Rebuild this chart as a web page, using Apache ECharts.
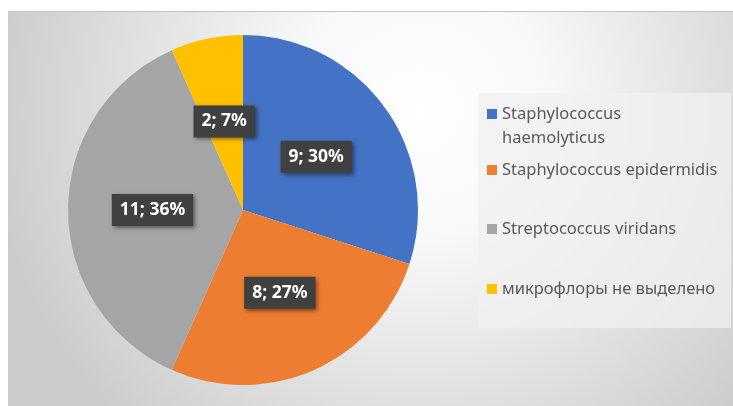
<!DOCTYPE html>
<html>
<head>
<meta charset="utf-8">
<script src="https://cdn.jsdelivr.net/npm/echarts@6/dist/echarts.min.js"></script>
<style>html,body{margin:0;padding:0;background:#fff}#c{width:733px;height:406px}</style>
</head>
<body>
<div id="c"></div>
<script>
const categories = ['Staphylococcus haemolyticus', 'Staphylococcus epidermidis', 'Streptococcus viridans', 'микрофлоры не выделено'];
const values = [9, 8, 11, 2];
const percentLabels = ['30%', '27%', '36%', '7%'];
const colors = ['#4472C4', '#ED7D31', '#A5A5A5', '#FFC000'];

const chart = echarts.init(document.getElementById('c'), null, {renderer: 'canvas'});
const font = '"Noto Sans", "Open Sans", sans-serif';
const legendTops = [78, 158, 217, 277];

const legends = categories.map((name, i) => ({
  data: [name],
  orient: 'vertical',
  left: 487,
  top: legendTops[i],
  padding: 0,
  icon: 'rect',
  itemWidth: 10,
  itemHeight: 10,
  itemGap: 0,
  selectedMode: false,
  formatter: n => (i === 0 ? '\n' + n.replace(' ', '\n') : n),
  textStyle: {
    fontFamily: font,
    fontSize: 16.5,
    color: '#595959',
    lineHeight: 24
  }
}));

chart.setOption({
  animation: false,
  color: colors,
  graphic: [
    {type: 'rect', z: -10, silent: true, shape: {x: 8, y: 11, width: 725, height: 395},
     style: {fill: {type: 'radial', x: 420, y: 110, r: 430, global: true,
       colorStops: [{offset: 0, color: '#ffffff'}, {offset: 0.3, color: '#f8f8f8'}, {offset: 1, color: '#cccccc'}]}}},
    {type: 'line', z: -9, silent: true, shape: {x1: 8, y1: 11.5, x2: 733, y2: 11.5},
     style: {stroke: '#c4c4c4', lineWidth: 1}},
    {type: 'rect', z: -8, silent: true, shape: {x: 478, y: 93, width: 253, height: 235},
     style: {fill: 'rgba(240,240,240,0.75)'}}
  ],
  legend: legends,
  series: [{
    type: 'pie',
    center: [243, 210],
    radius: 175,
    startAngle: 90,
    clockwise: true,
    silent: true,
    data: categories.map((n, i) => ({name: n, value: values[i]})),
    label: {
      show: true,
      position: 'inside',
      formatter: p => values[p.dataIndex] + '; ' + percentLabels[p.dataIndex],
      fontFamily: font,
      fontSize: 17.5,
      lineHeight: 18,
      fontWeight: 'bold',
      color: '#ffffff',
      backgroundColor: '#404040',
      padding: [7, 8, 7, 8],
      shadowColor: 'rgba(0,0,0,0.45)',
      shadowBlur: 4,
      shadowOffsetX: 2,
      shadowOffsetY: 2
    },
    labelLine: {show: false},
    emphasis: {disabled: true}
  }]
});
</script>
</body>
</html>
